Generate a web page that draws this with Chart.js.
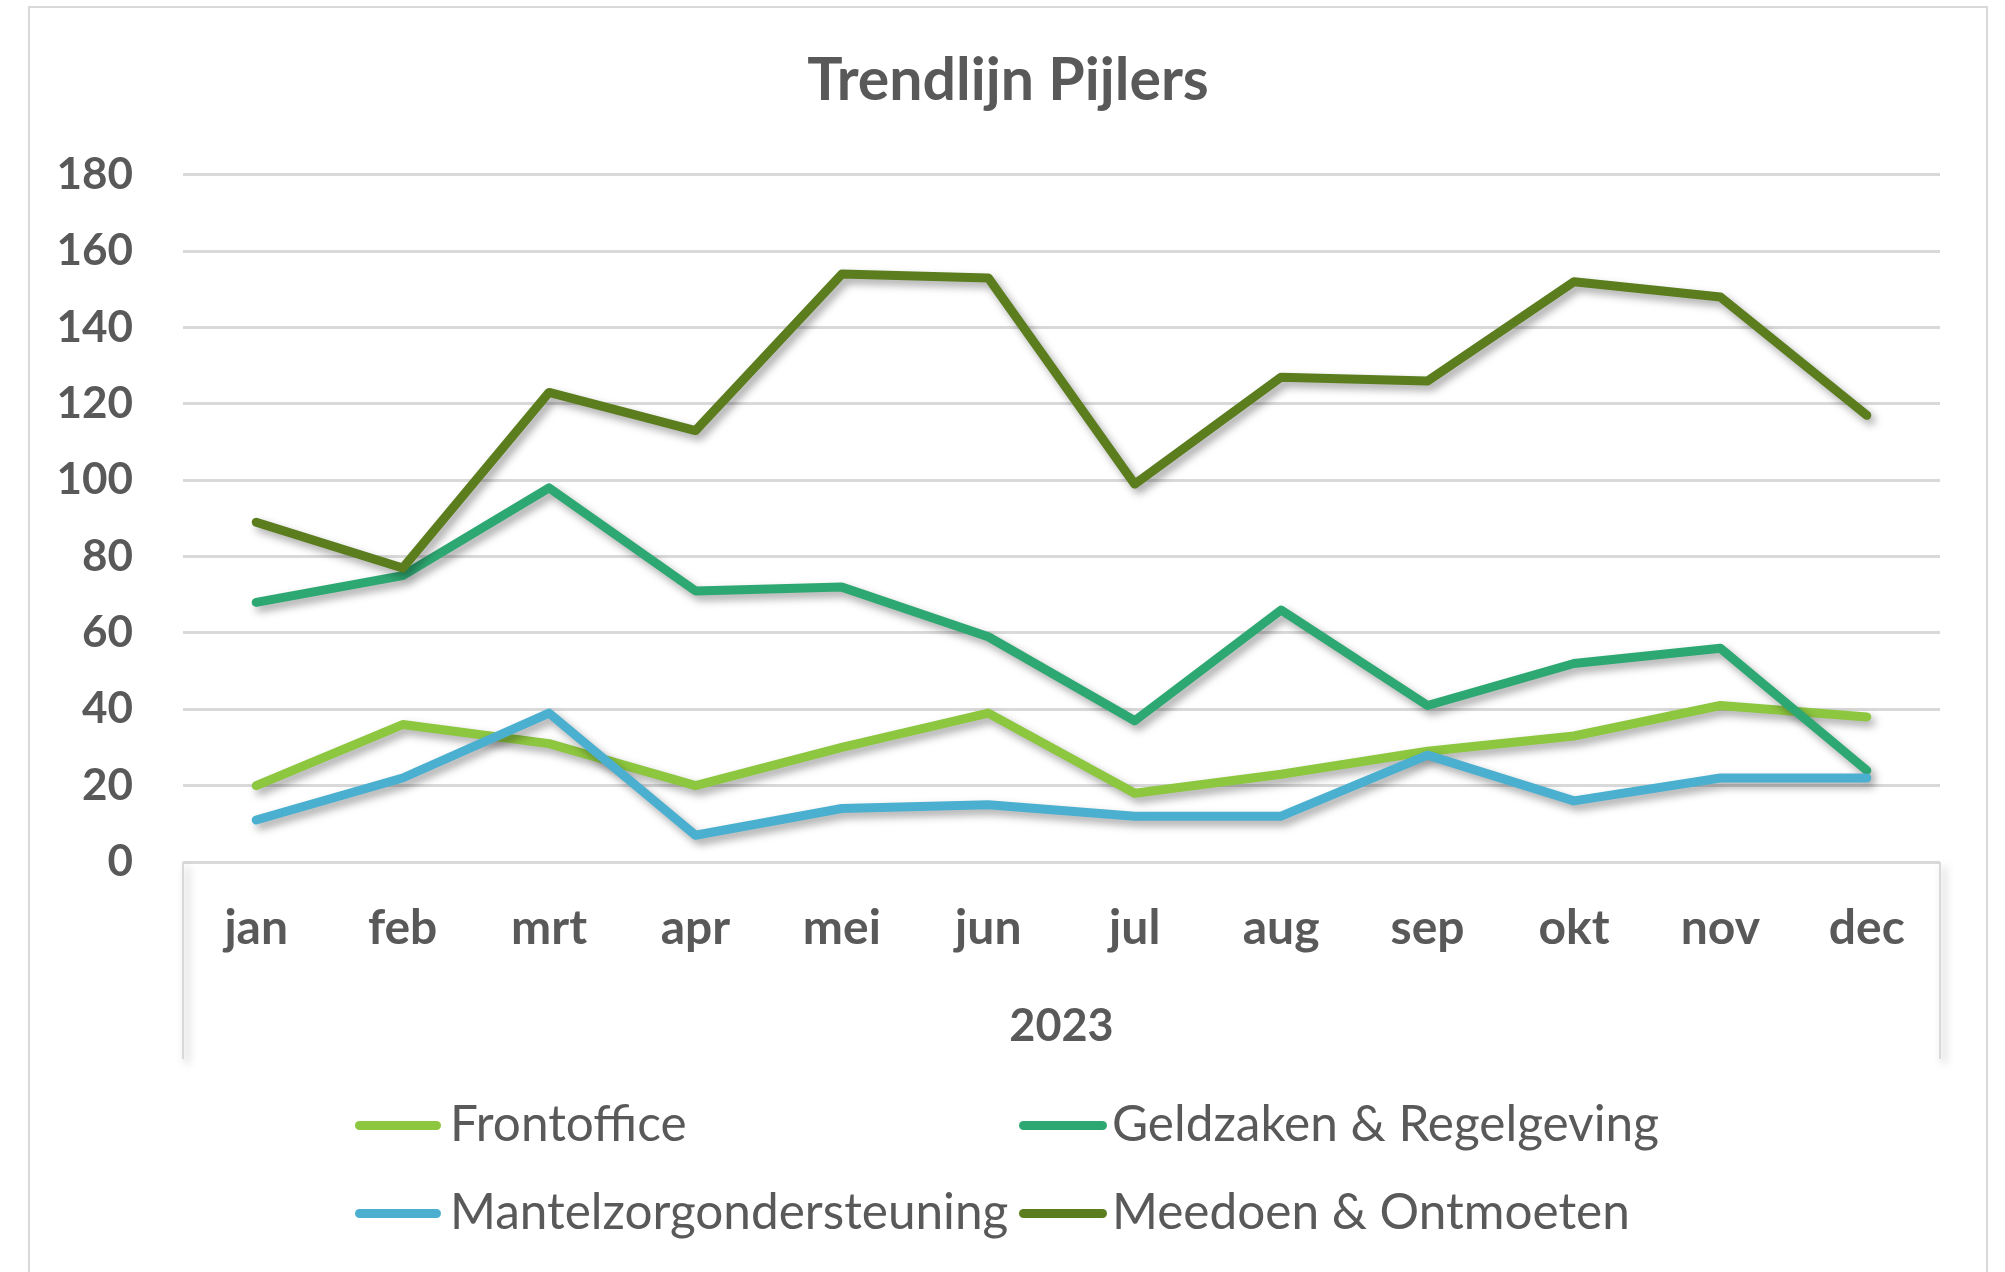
<!DOCTYPE html>
<html>
<head>
<meta charset="utf-8">
<script src="https://cdn.jsdelivr.net/npm/chart.js@4/dist/chart.umd.min.js"></script>
<style>
  body { margin: 0; background: #fff; }
  #wrap { position: relative; width: 2005px; height: 1272px; overflow: hidden; background: #fff; }
  #frame { position: absolute; left: 28px; top: 6px; width: 1956px; height: 1300px; border: 2px solid #d9d9d9; }
  #chart { position: absolute; left: 0; top: 0; }
  .leg { position: absolute; font-family: Lato, sans-serif; font-size: 49.5px; color: #595959; line-height: 1; white-space: nowrap; }
  .swatch { position: absolute; height: 9px; border-radius: 5px; }
</style>
</head>
<body>
<div id="wrap">
  <div id="frame"></div>
  <canvas id="chart" width="2005" height="1272"></canvas>
  <div id="legend"></div>
</div>
<script>
// data
const months = ['jan', 'feb', 'mrt', 'apr', 'mei', 'jun', 'jul', 'aug', 'sep', 'okt', 'nov', 'dec'];
const frontoffice = [20, 36, 31, 20, 30, 39, 18, 23, 29, 33, 41, 38];
const geldzaken = [68, 75, 98, 71, 72, 59, 37, 66, 41, 52, 56, 24];
const mantelzorg = [11, 22, 39, 7, 14, 15, 12, 12, 28, 16, 22, 22];
const meedoen = [89, 77, 123, 113, 154, 153, 99, 127, 126, 152, 148, 117];
const yTicks = [0, 20, 40, 60, 80, 100, 120, 140, 160, 180];

const seriesNames = ['Frontoffice', 'Geldzaken & Regelgeving', 'Mantelzorgondersteuning', 'Meedoen & Ontmoeten'];
const seriesColors = ['#8dc63f', '#2ea872', '#4bb0d0', '#5b7d1e'];
const seriesValues = [frontoffice, geldzaken, mantelzorg, meedoen];

const textGrey = '#595959';
const gridGrey = '#d9d9d9';

// drop shadow under the lines, like Excel
const shadowPlugin = {
  id: 'lineShadow',
  beforeDatasetsDraw(chart) {
    const ctx = chart.ctx;
    ctx.save();
    ctx.shadowColor = 'rgba(0,0,0,0.35)';
    ctx.shadowBlur = 8;
    ctx.shadowOffsetX = 4;
    ctx.shadowOffsetY = 5;
  },
  afterDatasetsDraw(chart) {
    chart.ctx.restore();
  }
};

// the two vertical boundary lines of the category axis
const axisFrame = {
  id: 'axisFrame',
  beforeDatasetsDraw(chart) {
    const { ctx, chartArea } = chart;
    ctx.save();
    ctx.strokeStyle = gridGrey;
    ctx.lineWidth = 2;
    [chartArea.left, chartArea.right].forEach(x => {
      ctx.beginPath();
      ctx.moveTo(x, chartArea.bottom);
      ctx.lineTo(x, chartArea.bottom + 197);
      ctx.stroke();
    });
    ctx.restore();
  }
};

const datasets = seriesNames.map((name, i) => ({
  label: name,
  data: seriesValues[i],
  borderColor: seriesColors[i],
  backgroundColor: seriesColors[i],
  borderWidth: 9,
  pointRadius: 0,
  tension: 0,
  borderJoinStyle: 'round',
  borderCapStyle: 'round',
  yAxisID: 'y',
  order: seriesNames.length - 1 - i
}));

new Chart(document.getElementById('chart'), {
  type: 'line',
  data: { labels: months, datasets },
  plugins: [shadowPlugin, axisFrame],
  options: {
    responsive: false,
    animation: false,
    layout: { padding: { left: 40, right: 29, top: 0, bottom: 219 } },
    plugins: {
      legend: { display: false },
      tooltip: { enabled: false },
      title: {
        display: true,
        text: 'Trendlijn Pijlers',
        color: textGrey,
        font: { family: 'Lato', size: 59, weight: 'bold' },
        padding: { top: 46, bottom: 58 }
      }
    },
    scales: {
      x: {
        offset: true,
        grid: { display: false, drawTicks: false, offset: true },
        border: { display: false },
        ticks: { color: textGrey, font: { family: 'Lato', size: 48, weight: 'bold' }, padding: 38, maxRotation: 0 },
        title: { display: true, text: '2023', color: textGrey, font: { family: 'Lato', size: 45, weight: 'bold' }, padding: 0 },
        afterFit(scale) { scale.height = 191; }
      },
      y: {
        min: 0,
        max: 180,
        afterBuildTicks(scale) { scale.ticks = yTicks.map(v => ({ value: v })); },
        grid: { color: gridGrey, lineWidth: 3, drawTicks: false },
        border: { display: false },
        ticks: { color: textGrey, font: { family: 'Lato', size: 44, weight: 'bold' }, padding: 50 },
        afterFit(scale) { scale.width = 143; }
      },
      // empty right-hand spacer so the plot area sits where it does in the reference
      spacer: {
        position: 'right',
        min: 0,
        max: 180,
        grid: { display: false, drawTicks: false },
        border: { display: false },
        ticks: { display: false },
        afterFit(scale) { scale.width = 36; }
      }
    }
  }
});

// legend laid out in two columns as in the reference
const legendPos = [
  { sx: 355, sw: 86, tx: 450, cy: 1125 },
  { sx: 1019, sw: 88, tx: 1112, cy: 1125 },
  { sx: 355, sw: 86, tx: 450, cy: 1213 },
  { sx: 1019, sw: 88, tx: 1112, cy: 1213 }
];
const legend = document.getElementById('legend');
seriesNames.forEach((name, i) => {
  const p = legendPos[i];
  const sw = document.createElement('div');
  sw.className = 'swatch';
  sw.style.left = p.sx + 'px';
  sw.style.width = p.sw + 'px';
  sw.style.top = (p.cy - 4) + 'px';
  sw.style.background = seriesColors[i];
  legend.appendChild(sw);
  const t = document.createElement('div');
  t.className = 'leg';
  t.textContent = name;
  t.style.left = p.tx + 'px';
  t.style.top = (p.cy - 27) + 'px';
  legend.appendChild(t);
});
</script>
</body>
</html>
